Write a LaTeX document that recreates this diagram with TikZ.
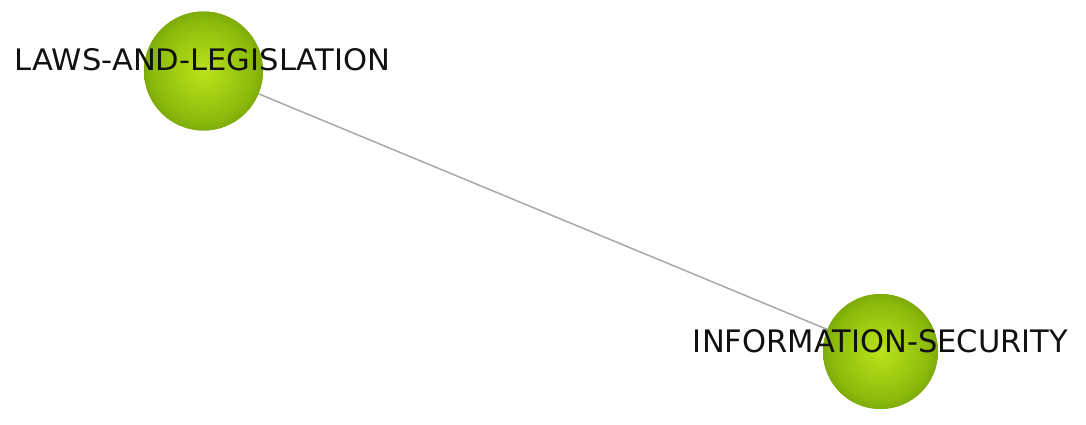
\documentclass[tikz,border=0pt]{standalone}
\usepackage{fontspec}
\usepackage{graphicx}
\setmainfont{DejaVu Sans}
\definecolor{gcA}{HTML}{BCE31A}
\definecolor{gcB}{HTML}{A8D414}
\definecolor{gcC}{HTML}{8CBA0C}
\definecolor{gcD}{HTML}{6E9A04}
\definecolor{gcE}{HTML}{507A00}
\definecolor{edgegray}{HTML}{A8A8A8}
\definecolor{labelcol}{HTML}{111111}
\pgfdeclareradialshading{greenball}{\pgfpoint{0bp}{0bp}}{color(0bp)=(gcA); color(8bp)=(gcB); color(21bp)=(gcC); color(29.5bp)=(gcD); color(34.8bp)=(gcE); color(50bp)=(gcE)}
\tikzset{
  ball/.style={circle, shading=greenball, draw=none, inner sep=0pt},
  lbl/.style={inner sep=0pt, text=labelcol},
  link/.style={draw=edgegray, line width=1.5pt}
}
\begin{document}
\begin{tikzpicture}[x=1pt,y=1pt]
\useasboundingbox (0,0) rectangle (1086,424);
\node[ball, minimum size=119pt] (a) at (203.5,353) {};
\node[ball, minimum size=115pt] (b) at (880.5,72.5) {};
\path[link] (a) -- (b);
\node[ball, minimum size=119pt] at (a) {};
\node[ball, minimum size=115pt] at (b) {};
\node[lbl] (la) at (202.5,364) {\resizebox{375pt}{22pt}{LAWS-AND-LEGISLATION}};
\node[lbl] (lb) at (880.5,82.5) {\resizebox{375pt}{23pt}{INFORMATION-SECURITY}};
\end{tikzpicture}
\end{document}
